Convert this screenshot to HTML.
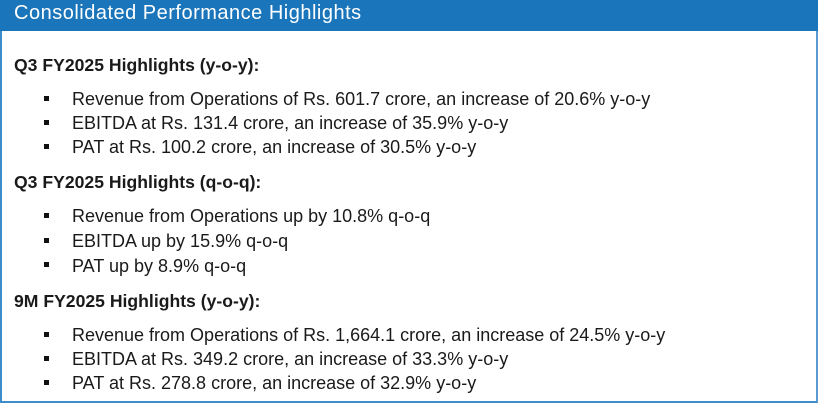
<!DOCTYPE html>
<html>
<head>
<meta charset="utf-8">
<style>
  html, body { margin:0; padding:0; background:#fff; }
  body { width:818px; height:405px; position:relative; overflow:hidden; font-family:"Liberation Sans", Arial, sans-serif; color:#1a1a1a; }
  .box { position:absolute; left:0; top:0; width:814px; height:401px; border-left:2px solid #3f8ccb; border-right:2px solid #5b9bd0; border-bottom:2px solid #3f8ccb; }
  .hdr { position:absolute; left:0; top:0; width:818px; height:31px; background:#1a75bb; }
  .title { position:absolute; left:14px; top:3px; font-size:20px; line-height:20px; color:#fff; letter-spacing:0.5px; white-space:nowrap; }
  .h { position:absolute; left:14px; font-size:17.6px; line-height:20px; font-weight:bold; white-space:nowrap; }
  .l { position:absolute; left:72px; font-size:18px; line-height:20px; white-space:nowrap; }
  .b { position:absolute; left:44px; width:5px; height:5px; background:#111; }
</style>
</head>
<body>
<div class="box"></div>
<div class="hdr"></div>
<div class="title">Consolidated Performance Highlights</div>

<div class="h" style="top:54.6px">Q3 FY2025 Highlights (y-o-y):</div>
<div class="b" style="top:96px"></div><div class="l" style="top:88.8px">Revenue from Operations of Rs. 601.7 crore, an increase of 20.6% y-o-y</div>
<div class="b" style="top:120px"></div><div class="l" style="top:112.8px">EBITDA at Rs. 131.4 crore, an increase of 35.9% y-o-y</div>
<div class="b" style="top:144px"></div><div class="l" style="top:137.1px">PAT at Rs. 100.2 crore, an increase of 30.5% y-o-y</div>

<div class="h" style="top:172.2px">Q3 FY2025 Highlights (q-o-q):</div>
<div class="b" style="top:213px"></div><div class="l" style="top:205.8px">Revenue from Operations up by 10.8% q-o-q</div>
<div class="b" style="top:238px"></div><div class="l" style="top:230.5px">EBITDA up by 15.9% q-o-q</div>
<div class="b" style="top:262px"></div><div class="l" style="top:255.5px">PAT up by 8.9% q-o-q</div>

<div class="h" style="top:290.6px">9M FY2025 Highlights (y-o-y):</div>
<div class="b" style="top:332px"></div><div class="l" style="top:324.5px">Revenue from Operations of Rs. 1,664.1 crore, an increase of 24.5% y-o-y</div>
<div class="b" style="top:356px"></div><div class="l" style="top:348.8px">EBITDA at Rs. 349.2 crore, an increase of 33.3% y-o-y</div>
<div class="b" style="top:380px"></div><div class="l" style="top:373.1px">PAT at Rs. 278.8 crore, an increase of 32.9% y-o-y</div>
</body>
</html>
